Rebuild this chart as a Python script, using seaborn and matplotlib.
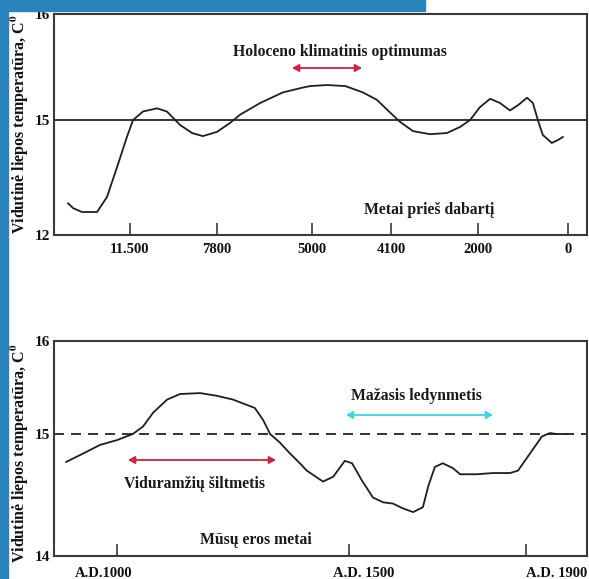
import numpy as np
import pandas as pd
import matplotlib
matplotlib.use("Agg")
import matplotlib.pyplot as plt
import matplotlib.transforms as mtransforms
import seaborn as sns

# ---------------- data ----------------
holo_years = [14140, 13920, 13540, 12900, 12480, 12050, 11630, 11370, 10950, 10350,
              9930, 9370, 8860, 8400, 7800, 7420, 7120, 6530, 5860, 5350,
              5060, 4830, 4620, 4420, 4260, 4110, 3880, 3570, 3160, 2750,
              2430, 2190, 1960, 1730, 1510, 1290, 1110, 910, 780, 670,
              560, 360, 220, 110]
holo_temp = [12.83, 12.70, 12.60, 12.60, 12.99, 13.77, 14.56, 15.00, 15.08, 15.11,
             15.08, 14.87, 14.66, 14.58, 14.69, 14.92, 15.05, 15.16, 15.26, 15.30,
             15.32, 15.33, 15.32, 15.26, 15.19, 15.07, 14.95, 14.71, 14.63, 14.66,
             14.82, 15.00, 15.12, 15.20, 15.16, 15.09, 15.14, 15.21, 15.16, 15.00,
             14.61, 14.40, 14.48, 14.56]

ad_years = [890, 927, 963, 1000, 1034, 1056, 1078, 1108, 1136, 1179,
            1216, 1250, 1297, 1315, 1330, 1351, 1373, 1394, 1409, 1444,
            1466, 1491, 1507, 1529, 1554, 1577, 1599, 1622, 1645, 1667,
            1679, 1694, 1712, 1735, 1751, 1789, 1825, 1864, 1882, 1909,
            1936, 1954, 1969, 1992]
ad_temp = [14.77, 14.84, 14.91, 14.95, 15.00, 15.08, 15.23, 15.37, 15.43, 15.44,
           15.41, 15.37, 15.28, 15.15, 15.00, 14.93, 14.84, 14.76, 14.70, 14.61,
           14.65, 14.78, 14.76, 14.62, 14.48, 14.44, 14.43, 14.39, 14.36, 14.40,
           14.57, 14.73, 14.76, 14.72, 14.67, 14.67, 14.68, 14.68, 14.70, 14.84,
           14.98, 15.01, 15.00, 15.00]

top_xticks = [11500, 7800, 5000, 4100, 2000, 0]
top_xlabels = ["11.500", "7800", "5000", "4100", "2000", "0"]
top_yticks = [12, 15, 16]
bot_xticks = [1000, 1500, 1900]
bot_xlabels = ["A.D.1000", "A.D. 1500", "A.D. 1900"]
bot_yticks = [14, 15, 16]
reference_temp = 15

ylabel_text = "Vidutinė liepos temperatūra, C$^{0}$"

# ---------------- layout (figure pixels) ----------------
W, H = 589, 579
# non-linear hand-drawn axes: anchor pixel positions for tick values
top_x_px = [130, 217, 312, 391, 478, 568]
top_y_px = [344, 459, 565]
bot_x_px = [117, 349, 526]
bot_y_px = [23, 145, 238]
bot_label_shift_px = [-13, 15, 31]
ax_left_px, ax_right_px = 54, 587


def piecewise(xp, fp):
    xp = np.asarray(xp, float)
    fp = np.asarray(fp, float)
    o = np.argsort(xp)
    xp, fp = xp[o], fp[o]
    s0 = (fp[1] - fp[0]) / (xp[1] - xp[0])
    s1 = (fp[-1] - fp[-2]) / (xp[-1] - xp[-2])

    def f(x):
        x = np.asarray(x, float)
        y = np.interp(x, xp, fp)
        y = np.where(x < xp[0], fp[0] + (x - xp[0]) * s0, y)
        y = np.where(x > xp[-1], fp[-1] + (x - xp[-1]) * s1, y)
        return y
    return f


sns.set_theme(style="white")
plt.rcParams["font.family"] = ["Liberation Serif", "DejaVu Serif"]
plt.rcParams["font.weight"] = "bold"
plt.rcParams["mathtext.fontset"] = "stix"

fig = plt.figure(figsize=(W / 100, H / 100), dpi=100, facecolor="white")

# blue decorative background strips
blue = "#2983bd"
fig.patches.append(plt.Rectangle((0, 0), 8 / W, 1, transform=fig.transFigure,
                                 color=blue, zorder=0))
fig.patches.append(plt.Rectangle((0, 1 - 11 / H), 425 / W, 11 / H,
                                 transform=fig.transFigure, color=blue, zorder=0))

ax1 = fig.add_axes([ax_left_px / W, top_y_px[0] / H,
                    (ax_right_px - ax_left_px) / W, (top_y_px[-1] - top_y_px[0]) / H])
ax2 = fig.add_axes([ax_left_px / W, bot_y_px[0] / H,
                    (ax_right_px - ax_left_px) / W, (bot_y_px[-1] - bot_y_px[0]) / H])

df1 = pd.DataFrame({"year": holo_years, "temp": holo_temp})
df2 = pd.DataFrame({"year": ad_years, "temp": ad_temp})

line_col = "#1e1e1e"
spine_col = "#3a3a3a"


def style_axes(ax, xticks, xlabels, yticks, xpx, ypx, pad, reverse=False):
    fx = piecewise(xticks, xpx)
    ix = piecewise(xpx, xticks)
    fy = piecewise(yticks, ypx)
    iy = piecewise(ypx, yticks)
    ax.set_xscale("function", functions=(fx, ix))
    ax.set_yscale("function", functions=(fy, iy))
    lo, hi = float(ix(ax_left_px)), float(ix(ax_right_px))
    ax.set_xlim(min(lo, hi), max(lo, hi))
    if reverse:
        ax.invert_xaxis()
    ax.set_ylim(yticks[0], yticks[-1])
    ax.set_xticks(xticks)
    ax.set_xticklabels(xlabels)
    ax.set_yticks(yticks)
    ax.set_yticklabels([str(t) for t in yticks])
    ax.minorticks_off()
    ax.tick_params(axis="x", direction="in", length=8.5, width=1.2,
                   colors=spine_col, labelcolor="#111", labelsize=10.5, pad=pad,
                   bottom=True)
    ax.tick_params(axis="y", length=0, labelsize=11, pad=3, labelcolor="#111", left=True)
    for lab in ax.get_xticklabels() + ax.get_yticklabels():
        lab.set_fontweight("bold")
    for s in ax.spines.values():
        s.set_visible(True)
        s.set_color(spine_col)
        s.set_linewidth(1.5)
    ax.set_xlabel("")
    ax.set_ylabel("")
    ax.set_facecolor("white")


sns.lineplot(data=df1, x="year", y="temp", ax=ax1, color=line_col, lw=1.3,
             estimator=None, sort=False)
ax1.axhline(reference_temp, color="#111", lw=1.2, zorder=1)
style_axes(ax1, top_xticks, top_xlabels, top_yticks, top_x_px, top_y_px, pad=6)

sns.lineplot(data=df2, x="year", y="temp", ax=ax2, color=line_col, lw=1.3,
             estimator=None, sort=False)
ax2.axhline(reference_temp, color="#111", lw=1.2, ls=(0, (6, 4.2)), zorder=1)
style_axes(ax2, bot_xticks, bot_xlabels, bot_yticks, bot_x_px, bot_y_px, pad=8)

# hand-placed bottom labels: shift each one horizontally
for lab, dx in zip(ax2.get_xticklabels(), bot_label_shift_px):
    lab.set_transform(lab.get_transform() +
                      mtransforms.ScaledTranslation(dx / 100, 0, fig.dpi_scale_trans))

# y labels
for yc in (124, 453):
    fig.text(20 / W, 1 - yc / H, ylabel_text, rotation=90, ha="center", va="center",
             fontsize=11.5, fontweight="bold", color="#111")


def fig_text(x, y, s, size=11.3):
    fig.text(x / W, 1 - y / H, s, ha="center", va="center", fontsize=size,
             fontweight="bold", color="#1a1a1a")


def fig_arrow(x0, x1, y, color):
    fig.add_artist(matplotlib.patches.FancyArrowPatch(
        (x0 / W, 1 - y / H), (x1 / W, 1 - y / H), transform=fig.transFigure,
        arrowstyle="<|-|>,head_length=4,head_width=2.2", color=color, lw=1.3,
        shrinkA=0, shrinkB=0))


fig_text(340, 52, "Holoceno klimatinis optimumas")
fig_arrow(292, 362, 68, "#cf2342")
fig_text(429, 210, "Metai prieš dabartį")

fig_text(416, 396, "Mažasis ledynmetis")
fig_arrow(346, 493, 415, "#3fd3df")
fig_text(194, 484, "Viduramžių šiltmetis")
fig_arrow(128, 276, 460, "#cf2342")
fig_text(256, 540, "Mūsų eros metai")

fig.savefig("out.png", dpi=100, facecolor="white")
